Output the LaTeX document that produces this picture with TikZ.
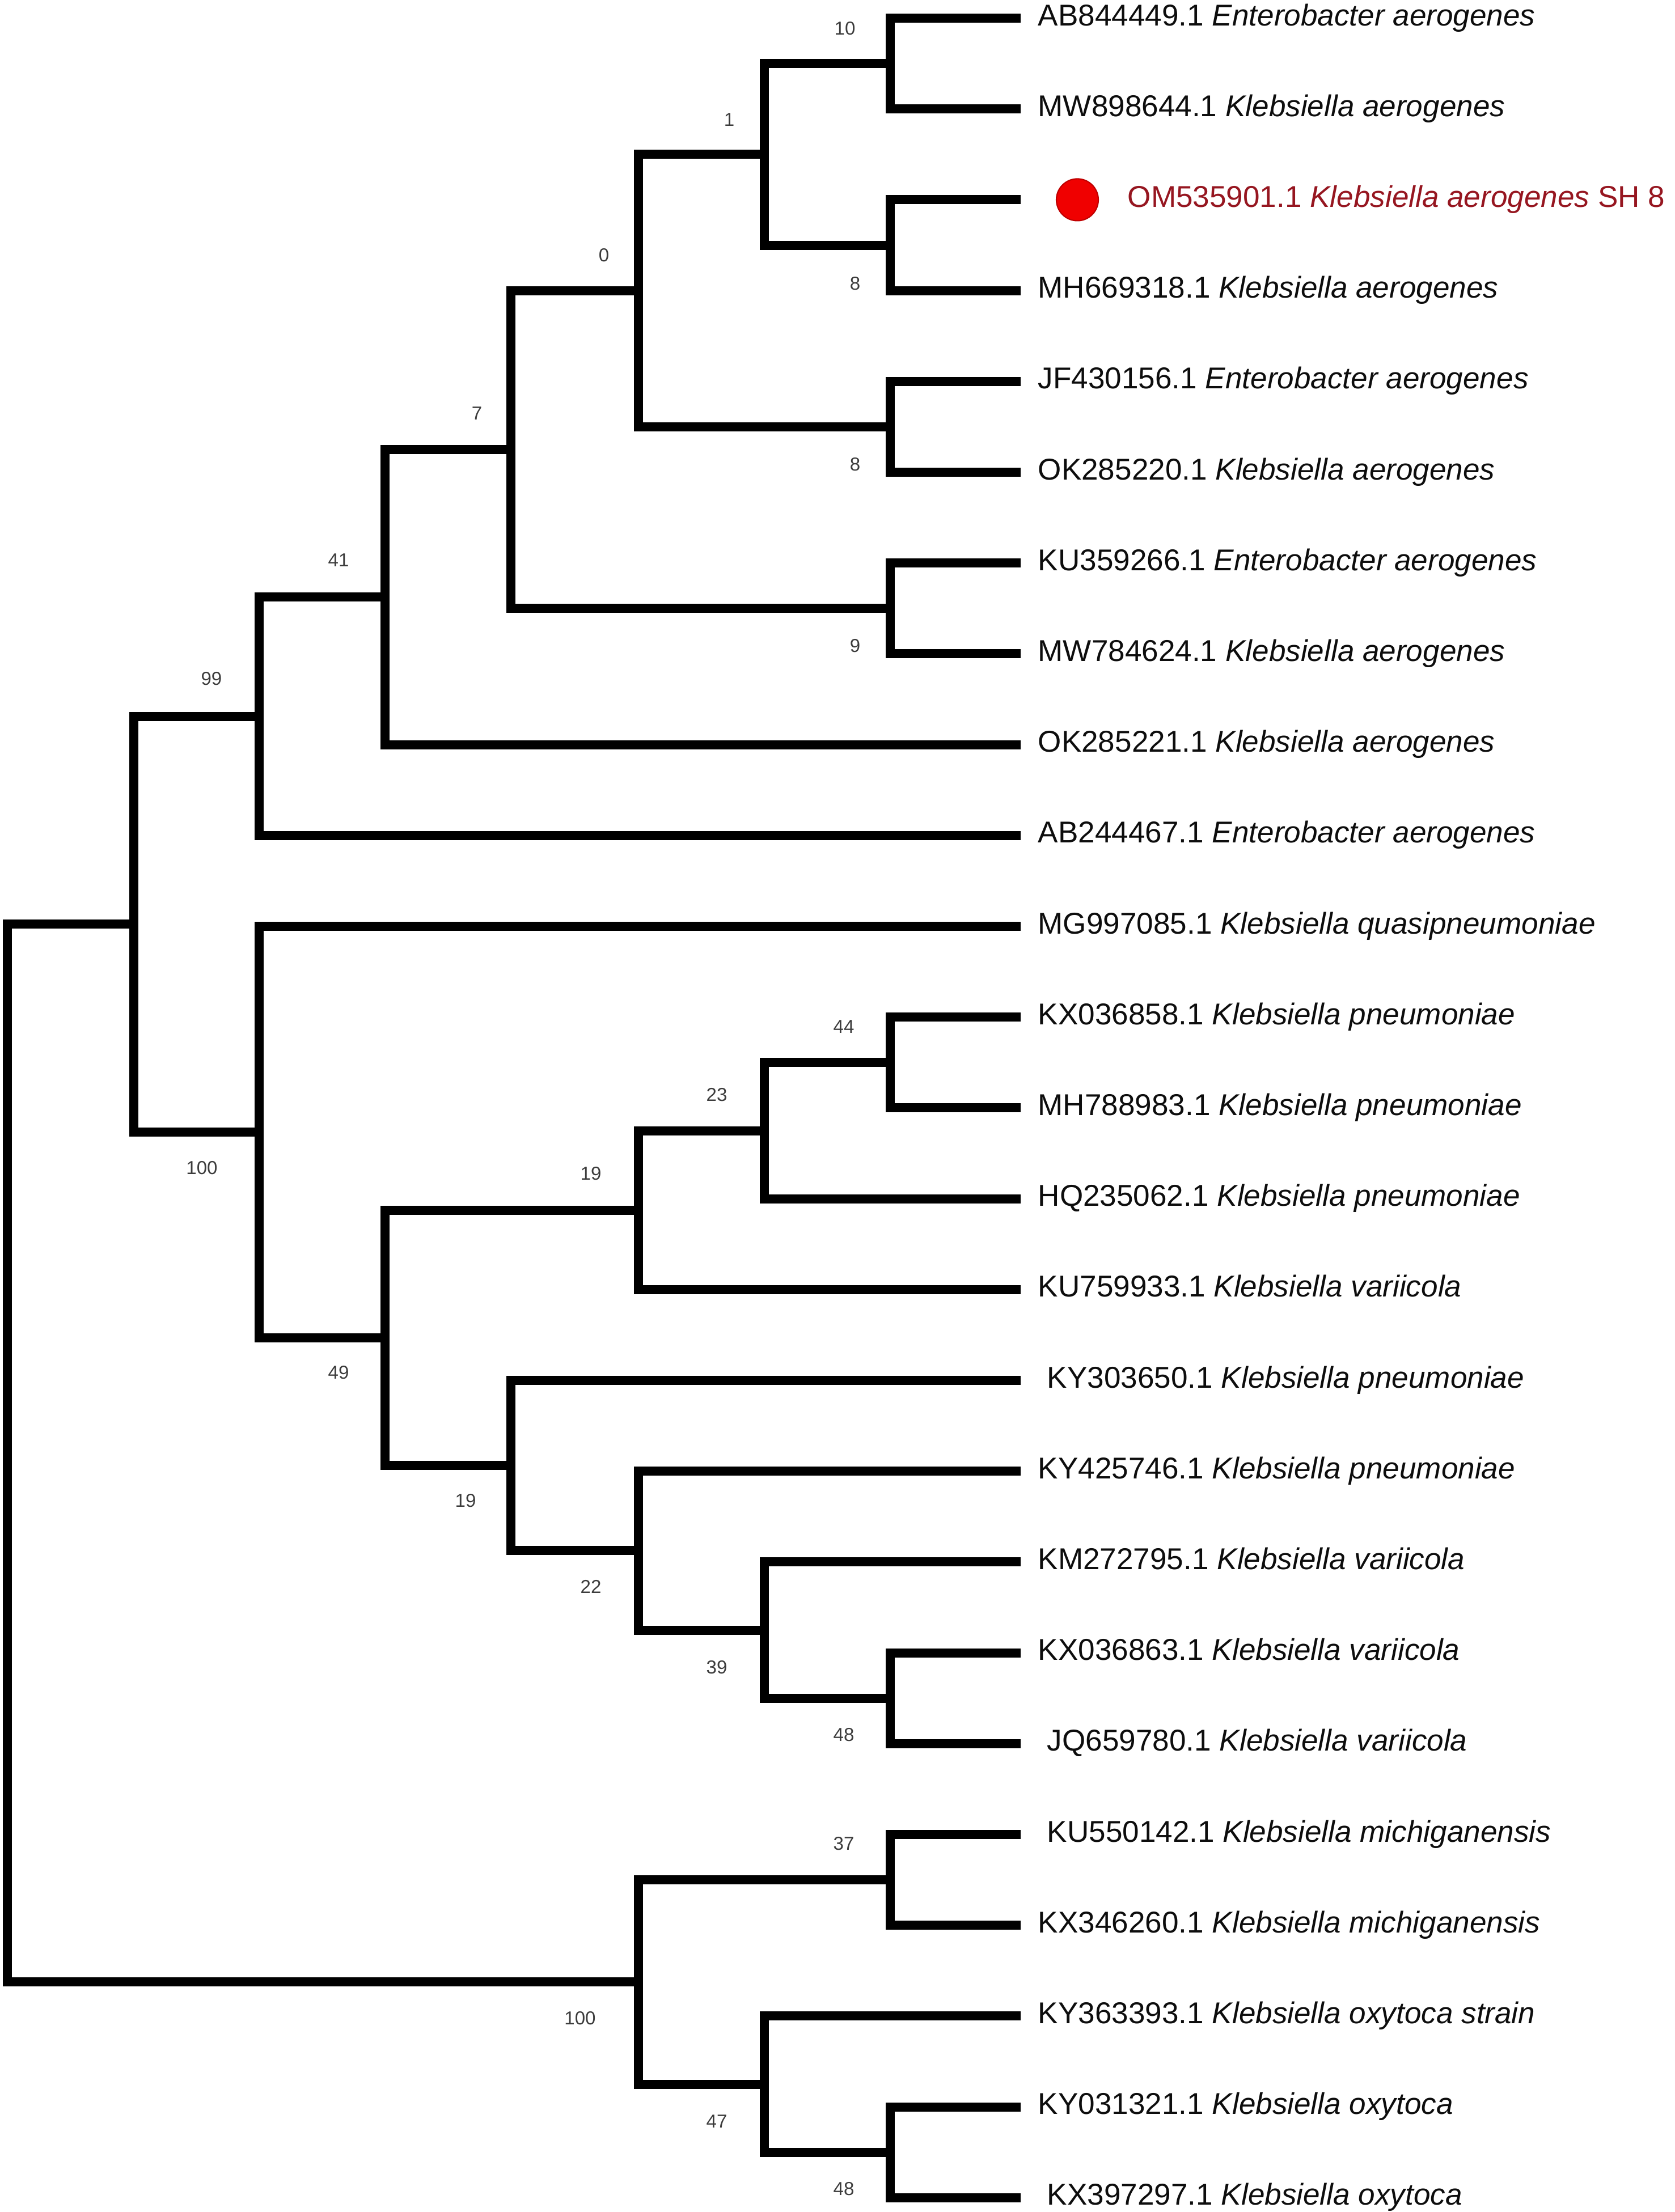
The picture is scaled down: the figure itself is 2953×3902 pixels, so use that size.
\documentclass[tikz,border=0pt]{standalone}
\usepackage{fontspec}
\setmainfont{Liberation Sans}
\definecolor{bscol}{RGB}{60,60,60}
\definecolor{hicol}{RGB}{150,22,32}
\definecolor{dotcol}{RGB}{240,0,0}
\definecolor{dotline}{RGB}{190,0,0}
\tikzset{
  br/.style={line width=4.55pt, line cap=butt, line join=miter, black},
  leaf/.style={anchor=base west, inner sep=0pt, font=\fontsize{15.1}{18}\selectfont, text=black!95},
  hileaf/.style={leaf, text=hicol},
  bs/.style={anchor=center, inner sep=0pt, font=\fontsize{9.4}{11}\selectfont, text=bscol}
}
\begin{document}
\begin{tikzpicture}[x=0.01cm, y=-0.01cm]
\useasboundingbox (0,0) rectangle (2953,3902);
% leaf tips
\coordinate (l1) at (1800,32);
\coordinate (l2) at (1800,192.2);
\coordinate (l3) at (1800,352.4);
\coordinate (l4) at (1800,512.6);
\coordinate (l5) at (1800,672.8);
\coordinate (l6) at (1800,833);
\coordinate (l7) at (1800,993.2);
\coordinate (l8) at (1800,1153.4);
\coordinate (l9) at (1800,1313.6);
\coordinate (l10) at (1800,1473.8);
\coordinate (l11) at (1800,1634);
\coordinate (l12) at (1800,1794.2);
\coordinate (l13) at (1800,1954.4);
\coordinate (l14) at (1800,2114.6);
\coordinate (l15) at (1800,2274.8);
\coordinate (l16) at (1800,2435);
\coordinate (l17) at (1800,2595.2);
\coordinate (l18) at (1800,2755.4);
\coordinate (l19) at (1800,2915.6);
\coordinate (l20) at (1800,3075.8);
\coordinate (l21) at (1800,3236);
\coordinate (l22) at (1800,3396.2);
\coordinate (l23) at (1800,3556.4);
\coordinate (l24) at (1800,3716.6);
\coordinate (l25) at (1800,3876.8);
% internal nodes
\coordinate (n10) at (1570,112.1);
\coordinate (n8a) at (1570,432.5);
\coordinate (n1) at (1348,272.3);
\coordinate (n8b) at (1570,752.9);
\coordinate (n0) at (1126,512.6);
\coordinate (n9) at (1570,1073.3);
\coordinate (n7) at (901,793);
\coordinate (n41) at (679,1053.3);
\coordinate (n99) at (457,1263.6);
\coordinate (n44) at (1570,1874.3);
\coordinate (n23) at (1348,1994.5);
\coordinate (n19a) at (1126,2134.6);
\coordinate (n48a) at (1570,2995.7);
\coordinate (n39) at (1348,2875.5);
\coordinate (n22) at (1126,2735.4);
\coordinate (n19b) at (901,2585.2);
\coordinate (n49) at (679,2359.9);
\coordinate (n100a) at (457,1997);
\coordinate (nA) at (236,1630.3);
\coordinate (n37) at (1570,3316.1);
\coordinate (n48b) at (1570,3796.7);
\coordinate (n47) at (1348,3676.6);
\coordinate (n100b) at (1126,3496.3);
\coordinate (root) at (13,2563.3);
% branches
\draw[br] (root) |- (nA);
\draw[br] (root) |- (n100b);
\draw[br] (nA) |- (n99);
\draw[br] (nA) |- (n100a);
\draw[br] (n99) |- (n41);
\draw[br] (n99) |- (l10);
\draw[br] (n41) |- (n7);
\draw[br] (n41) |- (l9);
\draw[br] (n7) |- (n0);
\draw[br] (n7) |- (n9);
\draw[br] (n0) |- (n1);
\draw[br] (n0) |- (n8b);
\draw[br] (n1) |- (n10);
\draw[br] (n1) |- (n8a);
\draw[br] (n10) |- (l1);
\draw[br] (n10) |- (l2);
\draw[br] (n8a) |- (l3);
\draw[br] (n8a) |- (l4);
\draw[br] (n8b) |- (l5);
\draw[br] (n8b) |- (l6);
\draw[br] (n9) |- (l7);
\draw[br] (n9) |- (l8);
\draw[br] (n100a) |- (l11);
\draw[br] (n100a) |- (n49);
\draw[br] (n49) |- (n19a);
\draw[br] (n49) |- (n19b);
\draw[br] (n19a) |- (n23);
\draw[br] (n19a) |- (l15);
\draw[br] (n23) |- (n44);
\draw[br] (n23) |- (l14);
\draw[br] (n44) |- (l12);
\draw[br] (n44) |- (l13);
\draw[br] (n19b) |- (l16);
\draw[br] (n19b) |- (n22);
\draw[br] (n22) |- (l17);
\draw[br] (n22) |- (n39);
\draw[br] (n39) |- (l18);
\draw[br] (n39) |- (n48a);
\draw[br] (n48a) |- (l19);
\draw[br] (n48a) |- (l20);
\draw[br] (n100b) |- (n37);
\draw[br] (n100b) |- (n47);
\draw[br] (n37) |- (l21);
\draw[br] (n37) |- (l22);
\draw[br] (n47) |- (l23);
\draw[br] (n47) |- (n48b);
\draw[br] (n48b) |- (l24);
\draw[br] (n48b) |- (l25);
% bootstrap values
\node[bs] (b10) at (1490,50) {10};
\node[bs] (b1) at (1286,211) {1};
\node[bs] (b0) at (1065,450) {0};
\node[bs] (b8a) at (1508,500) {8};
\node[bs] (b7) at (841,729) {7};
\node[bs] (b8b) at (1508,819) {8};
\node[bs] (b41) at (597,988) {41};
\node[bs] (b9) at (1508,1139) {9};
\node[bs] (b99) at (373,1197) {99};
\node[bs] (b100a) at (356,2060) {100};
\node[bs] (b44) at (1488,1811) {44};
\node[bs] (b23) at (1264,1931) {23};
\node[bs] (b19a) at (1042,2070) {19};
\node[bs] (b49) at (597,2421) {49};
\node[bs] (b19b) at (821,2647) {19};
\node[bs] (b22) at (1042,2799) {22};
\node[bs] (b39) at (1264,2941) {39};
\node[bs] (b48a) at (1488,3060) {48};
\node[bs] (b37) at (1488,3252) {37};
\node[bs] (b100b) at (1023,3560) {100};
\node[bs] (b47) at (1264,3742) {47};
\node[bs] (b48b) at (1488,3861) {48};
% highlight dot
\node[circle, fill=dotcol, draw=dotline, line width=0.6pt, minimum size=0.74cm, inner sep=0pt] (dot) at (1900,352.4) {};
% leaf labels
\node[leaf] (t1) at (1830,45) {AB844449.1 \textit{Enterobacter aerogenes}};
\node[leaf] (t2) at (1830,205.2) {MW898644.1 \textit{Klebsiella aerogenes}};
\node[hileaf] (t3) at (1988,365.4) {OM535901.1 \textit{Klebsiella aerogenes} SH 8};
\node[leaf] (t4) at (1830,525.6) {MH669318.1 \textit{Klebsiella aerogenes}};
\node[leaf] (t5) at (1830,685.8) {JF430156.1 \textit{Enterobacter aerogenes}};
\node[leaf] (t6) at (1830,846) {OK285220.1 \textit{Klebsiella aerogenes}};
\node[leaf] (t7) at (1830,1006.2) {KU359266.1 \textit{Enterobacter aerogenes}};
\node[leaf] (t8) at (1830,1166.4) {MW784624.1 \textit{Klebsiella aerogenes}};
\node[leaf] (t9) at (1830,1326.6) {OK285221.1 \textit{Klebsiella aerogenes}};
\node[leaf] (t10) at (1830,1486.8) {AB244467.1 \textit{Enterobacter aerogenes}};
\node[leaf] (t11) at (1830,1647) {MG997085.1 \textit{Klebsiella quasipneumoniae}};
\node[leaf] (t12) at (1830,1807.2) {KX036858.1 \textit{Klebsiella pneumoniae}};
\node[leaf] (t13) at (1830,1967.4) {MH788983.1 \textit{Klebsiella pneumoniae}};
\node[leaf] (t14) at (1830,2127.6) {HQ235062.1 \textit{Klebsiella pneumoniae}};
\node[leaf] (t15) at (1830,2287.8) {KU759933.1 \textit{Klebsiella variicola}};
\node[leaf] (t16) at (1846,2448) {KY303650.1 \textit{Klebsiella pneumoniae}};
\node[leaf] (t17) at (1830,2608.2) {KY425746.1 \textit{Klebsiella pneumoniae}};
\node[leaf] (t18) at (1830,2768.4) {KM272795.1 \textit{Klebsiella variicola}};
\node[leaf] (t19) at (1830,2928.6) {KX036863.1 \textit{Klebsiella variicola}};
\node[leaf] (t20) at (1846,3088.8) {JQ659780.1 \textit{Klebsiella variicola}};
\node[leaf] (t21) at (1846,3249) {KU550142.1 \textit{Klebsiella michiganensis}};
\node[leaf] (t22) at (1830,3409.2) {KX346260.1 \textit{Klebsiella michiganensis}};
\node[leaf] (t23) at (1830,3569.4) {KY363393.1 \textit{Klebsiella oxytoca strain}};
\node[leaf] (t24) at (1830,3729.6) {KY031321.1 \textit{Klebsiella oxytoca}};
\node[leaf] (t25) at (1846,3889.8) {KX397297.1 \textit{Klebsiella oxytoca}};
\end{tikzpicture}
\end{document}
